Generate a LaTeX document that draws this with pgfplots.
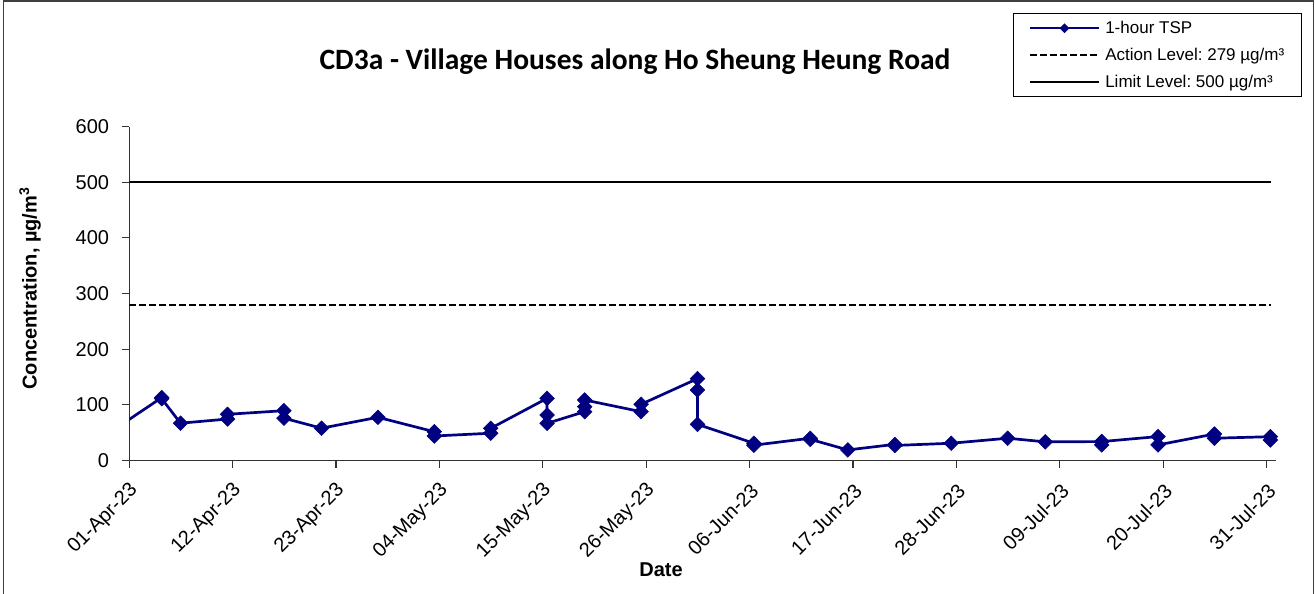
\documentclass[border=0pt]{standalone}
\usepackage{pgfplots}
\pgfplotsset{compat=1.18}
\usepackage{fontspec}
\setmainfont{Liberation Sans}
\newfontfamily\titlefont{Carlito}
\definecolor{navy}{RGB}{0,0,128}
\frenchspacing
\begin{document}
\begin{tikzpicture}
\begin{axis}[
  at={(0,0)}, anchor=south west,
  scale only axis, width=1146.7pt, height=334pt,
  xmin=0, xmax=122, ymin=0, ymax=600,
  axis x line*=bottom, axis y line*=left,
  axis line style={draw=black!80, line width=1.2pt},
  every tick/.style={draw=black!80, line width=1.2pt},
  tick align=outside,
  major tick length=7pt,
  xtick={0,11,...,121},
  xticklabels={01-Apr-23,12-Apr-23,23-Apr-23,04-May-23,15-May-23,26-May-23,06-Jun-23,17-Jun-23,28-Jun-23,09-Jul-23,20-Jul-23,31-Jul-23},
  ytick={0,100,...,600},
  /pgf/number format/assume math mode=true,
  tick label style={font=\fontsize{20}{24}\selectfont, inner sep=0pt},
  xticklabel style={xshift=5.4pt, yshift=-20pt, rotate=45, anchor=east},
  yticklabel style={xshift=-13pt, anchor=east},
  xlabel={Date},
  ylabel={Concentration, µg/m\textsuperscript{3}},
  label style={font=\bfseries\fontsize{20}{24}\selectfont},
  xlabel style={at={(rel axis cs:0.4637,-0.3278)}, anchor=center},
  ylabel style={at={(rel axis cs:-0.0866,0.515)}, anchor=center},
  legend style={at={(rel axis cs:0.7709,1.3389)}, anchor=north west,
    draw=black, line width=1pt, fill=white,
    font=\fontsize{17}{20}\selectfont, row sep=9pt,
    inner xsep=15pt, inner ysep=5.5pt,
    /tikz/every odd column/.style={column sep=3pt}},
  legend cell align=left,
  legend image code/.code={\draw[#1] (0pt,0pt) -- (69pt,0pt);},
]
\addplot[navy, line width=2.7pt, forget plot] coordinates {(-2.55,45) (3.45,113)};
\addplot[navy, line width=2.7pt, mark=square*, mark size=5.2pt,
  mark options={rotate=45, solid, line width=0.5pt},
  legend image code/.code={\draw[navy, line width=2pt] (0pt,0pt) -- (69pt,0pt);
     \fill[navy] (34.5pt,3pt) -- (37.5pt,0pt) -- (34.5pt,-3pt) -- (31.5pt,0pt) -- cycle;}]
coordinates {
(3.45,113) (3.45,111)
(5.45,67)
(10.45,74.5) (10.45,83)
(16.45,89.5) (16.45,76)
(20.45,58)
(26.45,77.6)
(32.45,51.7) (32.45,44)
(38.45,49) (38.45,57.8)
(44.45,111.7) (44.45,81.7) (44.45,66.8)
(48.45,87.7) (48.45,96.6) (48.45,108.7)
(54.45,87.7) (54.45,101)
(60.45,147) (60.45,126.6) (60.45,65)
(66.45,31) (66.45,27.5)
(72.45,40) (72.45,38)
(76.45,19)
(81.45,29) (81.45,27)
(87.45,31)
(93.45,40)
(97.45,33.5)
(103.45,34) (103.45,28) (103.45,34)
(109.45,43) (109.45,28)
(115.45,47.6) (115.45,40)
(121.4,42.8) (121.4,36.8)
};
\addlegendentry{1-hour TSP}
\addplot[black, line width=2.5pt, dash pattern=on 6.5pt off 3.5pt] coordinates {(0,279) (121.5,279)};
\addlegendentry{Action Level: 279 µg/m³}
\addplot[black, line width=2.5pt] coordinates {(0,500) (121.5,500)};
\addlegendentry{Limit Level: 500 µg/m³}
\end{axis}
\node[font=\titlefont\bfseries\fontsize{29.5}{34}\selectfont] at (505.7pt,399pt) {CD3a - Village Houses along Ho Sheung Heung Road};
\draw[line width=1.5pt, black!75] (-125.8pt,-140pt) -- (-125.8pt,459.5pt) -- (1184pt,459.5pt) -- (1184pt,-140pt);
\pgfresetboundingbox
\useasboundingbox (-129.3pt,-133.5pt) rectangle (1185.7pt,460.5pt);
\end{tikzpicture}
\end{document}
